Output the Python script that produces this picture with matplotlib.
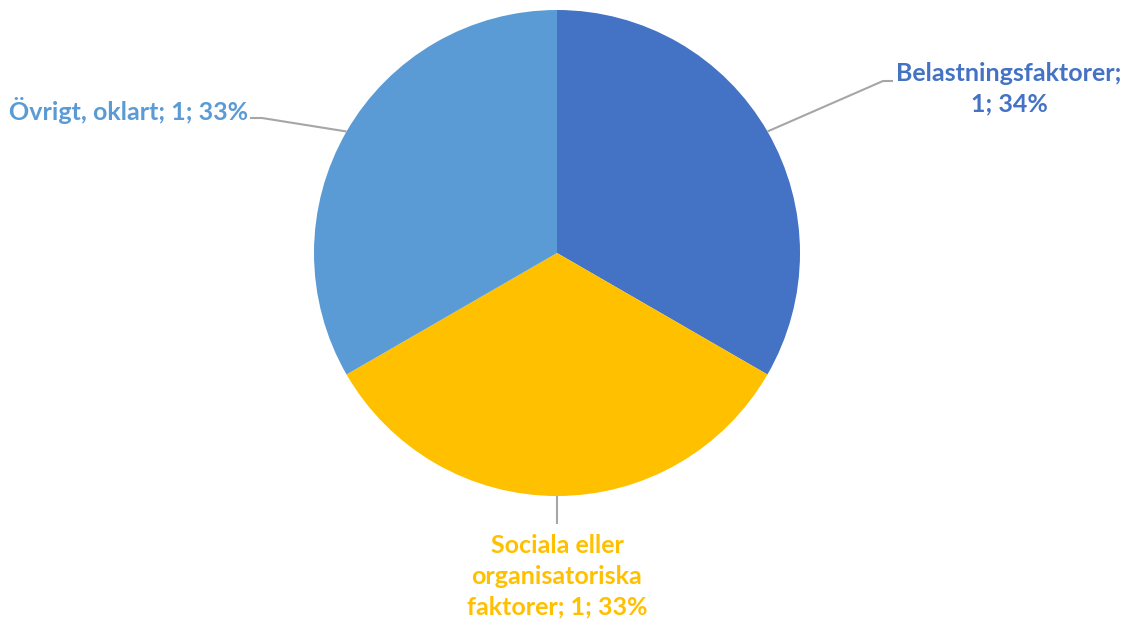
import numpy as np
import matplotlib
matplotlib.use("Agg")
import matplotlib.pyplot as plt

# data
labels = ["Belastningsfaktorer", "Sociala eller\norganisatoriska\nfaktorer", "Övrigt, oklart"]
values = [1, 1, 1]
pcts = ["34%", "33%", "33%"]
colors = ["#4472C4", "#FFC000", "#5B9BD5"]

W, H = 1132, 622
fig = plt.figure(figsize=(W / 100, H / 100), dpi=100)
ax = fig.add_axes([0, 0, 1, 1])

cx, cy, r = 557, H - 253, 243
wedges, _ = ax.pie(values, colors=colors, startangle=90, counterclock=False,
                   center=(cx, cy), radius=r, wedgeprops=dict(linewidth=0))
ax.set_xlim(0, W)
ax.set_ylim(0, H)
ax.set_aspect("equal")
ax.axis("off")

# label text + leader line route (elbow, end)
texts = [
    "Belastningsfaktorer;\n1; 34%",
    "Sociala eller\norganisatoriska\nfaktorer; 1; 33%",
    "Övrigt, oklart; 1; 33%",
]
text_pos = [(1009, 89), (557, 576), (129, 110)]
leader = [
    [(883, 81), (893, 81)],
    [(557, 524)],
    [(262, 118), (250, 118)],
]

for w, col, txt, (tx, ty), pts in zip(wedges, colors, texts, text_pos, leader):
    mid = np.deg2rad((w.theta1 + w.theta2) / 2)
    sx, sy = cx + r * np.cos(mid), cy + r * np.sin(mid)
    xs = [sx] + [p[0] for p in pts]
    ys = [sy] + [H - p[1] for p in pts]
    ax.plot(xs, ys, color="#A6A6A6", lw=1.5, solid_capstyle="butt")
    ax.text(tx, H - ty, txt, color=col, fontsize=18, fontweight="bold",
            family="Lato", ha="center", va="center", linespacing=1.4)

fig.savefig("out.png", dpi=100)
